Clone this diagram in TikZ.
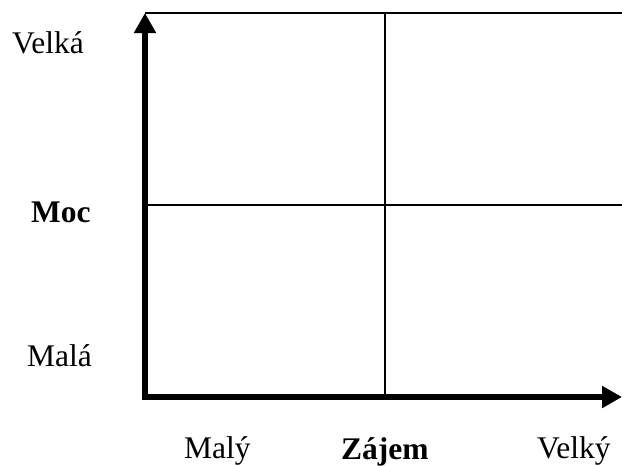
\documentclass[tikz,border=0pt]{standalone}
\usepackage{fontspec}
\setmainfont{Liberation Serif}
\usetikzlibrary{arrows.meta}
\begin{document}
\begin{tikzpicture}[x=1pt,y=-1pt,
  axis/.style={line width=6pt,-{Triangle[length=20pt,width=21pt]}},
  grid/.style={line width=1.5pt},
  lbl/.style={anchor=base west,inner sep=0pt,font=\fontsize{31.5}{36}\selectfont},
  blbl/.style={lbl,font=\fontsize{31.5}{36}\selectfont\bfseries}]
\useasboundingbox (0,0) rectangle (622,466);
\coordinate (o) at (145,400);
\coordinate (ox) at (142,397);
\coordinate (top) at (145,13);
\coordinate (right) at (622,397);
\coordinate (tl) at (145,13);
\coordinate (tr) at (622,13);
\coordinate (mt) at (385,13);
\coordinate (mb) at (385,397);
\coordinate (ml) at (145,205);
\coordinate (mr) at (622,205);
\draw[grid] (tl) -- (tr);
\draw[grid] (mt) -- (mb);
\draw[grid] (ml) -- (mr);
\draw[axis] (o) -- (top);
\draw[axis] (ox) -- (right);
\node[lbl] (velka) at (12,53) {Velká};
\node[blbl] (moc) at (31,222) {Moc};
\node[lbl] (mala) at (27,366) {Malá};
\node[lbl] (maly) at (184,458) {Malý};
\node[blbl] (zajem) at (341,459) {Zájem};
\node[lbl] (velky) at (537,458) {Velký};
\end{tikzpicture}
\end{document}
